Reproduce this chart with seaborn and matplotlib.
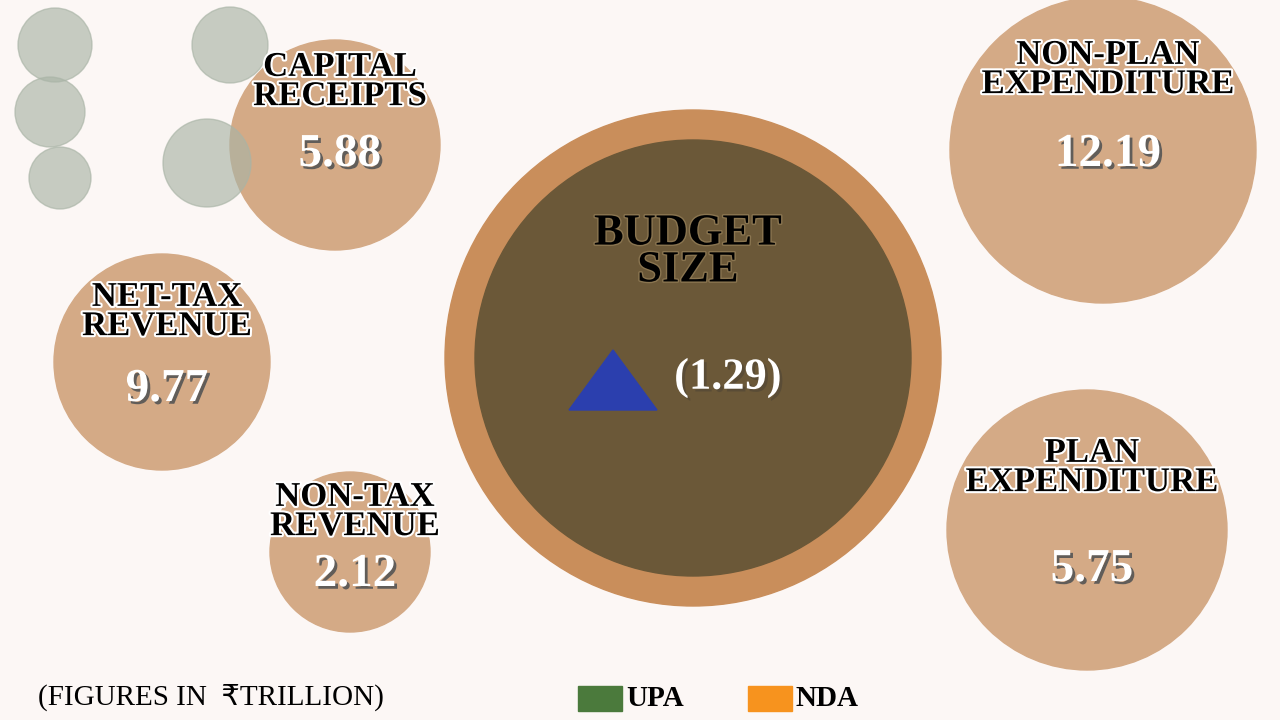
import matplotlib
matplotlib.use("Agg")
import matplotlib.pyplot as plt
import matplotlib.patheffects as pe
from matplotlib.patches import Circle, Rectangle, Polygon
import seaborn as sns

sns.set_theme(style="white")
plt.rcParams['font.family'] = ['Liberation Serif', 'DejaVu Serif', 'DejaVu Sans']

# data
labels = ["CAPITAL\nRECEIPTS", "NON-PLAN\nEXPENDITURE", "NET-TAX\nREVENUE", "NON-TAX\nREVENUE", "PLAN\nEXPENDITURE"]
values = [5.88, 12.19, 9.77, 2.12, 5.75]
budget_label = "BUDGET\nSIZE"
budget_change = "(1.29)"
legend_names = ["UPA", "NDA"]
legend_colors = ["#4b7a3c", "#f7931e"]

# layout (pixels)
centers = [(335, 145), (1103, 150), (162, 362), (350, 552), (1087, 530)]
radii = [105, 153, 108, 80, 140]
label_y = [82, 70, 312, 512, 468]
value_y = [155, 155, 390, 575, 570]
gray = [(55, 45, 37), (230, 45, 38), (50, 112, 35), (60, 178, 31), (207, 163, 44)]

fig = plt.figure(figsize=(12.8, 7.2), dpi=100)
fig.patch.set_facecolor("#fcf7f5")
ax = fig.add_axes([0, 0, 1, 1])
ax.set_xlim(0, 1280); ax.set_ylim(720, 0); ax.axis("off")
ax.set_facecolor("#fcf7f5")

bub = "#d4aa86"
for (cx, cy), r in zip(centers, radii):
    ax.add_patch(Circle((cx, cy), r, color=bub, zorder=1))
for gx, gy, gr in gray:
    ax.add_patch(Circle((gx, gy), gr, color="#a9b4a6", alpha=0.65, zorder=2))

ax.add_patch(Circle((693, 358), 248, color="#c98e5b", zorder=1))
ax.add_patch(Circle((693, 358), 218, color="#6b5838", zorder=2))

shadow = [pe.withStroke(linewidth=3, foreground="white")]
for lab, v, (cx, cy), ly, vy in zip(labels, values, centers, label_y, value_y):
    ax.text(cx + 5, ly, lab, ha="center", va="center", fontsize=25, fontweight="bold",
            color="black", linespacing=0.85, path_effects=shadow, zorder=5)
    ax.text(cx + 5, vy, f"{v:.2f}", ha="center", va="center", fontsize=34, fontweight="bold",
            color="white", path_effects=[pe.withSimplePatchShadow(offset=(2, -2), shadow_rgbFace="#555555", alpha=0.9)],
            zorder=5)

ax.text(688, 252, budget_label, ha="center", va="center", fontsize=32, fontweight="bold",
        color="black", linespacing=0.9, path_effects=[pe.withStroke(linewidth=2, foreground="#8a7550")], zorder=5)
ax.add_patch(Polygon([(569, 410), (657, 410), (613, 350)], color="#2b3fae", zorder=5))
ax.text(728, 378, budget_change, ha="center", va="center", fontsize=32, fontweight="bold",
        color="white", path_effects=[pe.withSimplePatchShadow(offset=(2, -2), shadow_rgbFace="#333333")], zorder=5)

ax.text(38, 697, "(FIGURES IN  \u20b9TRILLION)", ha="left", va="center", fontsize=21,
        color="black", family=["Liberation Serif", "DejaVu Sans"])
for i, (n, c) in enumerate(zip(legend_names, legend_colors)):
    x0 = 578 + i * 170
    ax.add_patch(Rectangle((x0, 686), 44, 25, color=c))
    ax.text(x0 + 48, 699, n, ha="left", va="center", fontsize=21, fontweight="bold", color="black")

fig.savefig("out.png", dpi=100, facecolor=fig.get_facecolor())
